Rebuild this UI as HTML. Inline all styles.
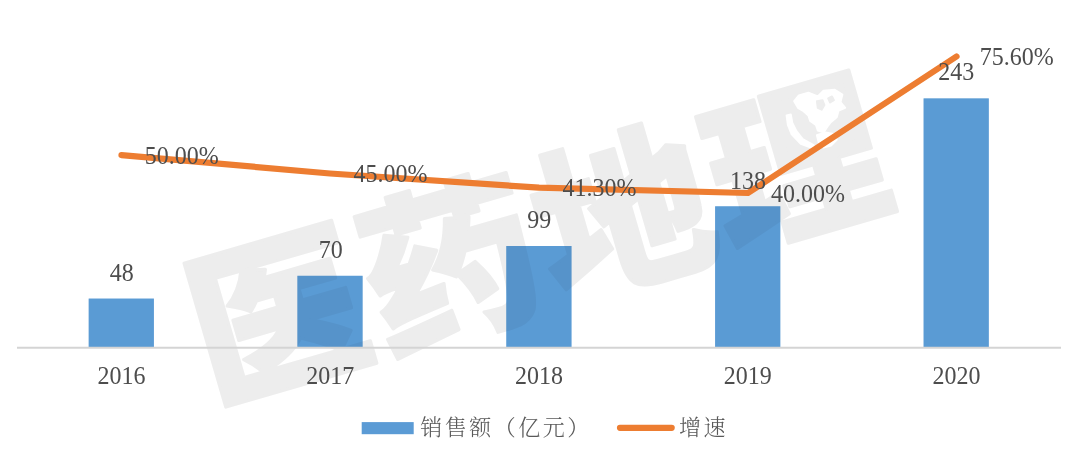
<!DOCTYPE html>
<html lang="zh">
<head>
<meta charset="utf-8">
<title>销售额与增速</title>
<style>
html,body{margin:0;padding:0;background:#fff;}
body{width:1080px;height:476px;overflow:hidden;position:relative;}
svg{position:absolute;left:0;top:0;display:block;}
.num{font-family:"Liberation Serif","Noto Serif CJK SC",serif;font-size:25px;fill:#4d4d4d;}
.leg{font-family:"Liberation Serif","Noto Serif CJK SC",serif;font-weight:300;font-size:22px;fill:#595959;letter-spacing:2.5px;}
.wm{font-family:"Noto Sans CJK SC","Liberation Sans",sans-serif;font-weight:900;font-size:170px;fill:#ededed;stroke:#ededed;stroke-width:3px;letter-spacing:3.3px;stroke-linejoin:round;}
</style>
</head>
<body>
<svg width="1080" height="476" viewBox="0 0 1080 476">
  <rect width="1080" height="476" fill="#ffffff"/>
  <g transform="translate(210.2,399.7) rotate(-16.2) scale(1.038,1)">
    <text class="wm" x="0" y="0">医药地理</text>
  </g>
  <g transform="translate(210.2,399.7) rotate(-16.2)">
    <rect x="624" y="-128" width="72" height="58" fill="#ededed"/>
  </g>
  <g fill="#ffffff" stroke="#ffffff" stroke-width="2" stroke-linejoin="round">
    <polygon points="794.2,101.2 798.9,95.5 808.4,92.7 817.8,96.5 823.5,90.8 834.8,89.8 842.4,94.6 840.5,102.1 845.2,107.8 838.6,110.6 836.7,117.3 831.0,122.0 827.3,126.7 823.5,132.4 817.8,130.5 815.9,124.8 810.2,121.0 808.4,115.4 802.7,110.6 798.0,107.8"/>
    <polygon points="786.6,115.4 787.9,124.8 791.7,134.3 800.8,143.7 813.1,148.4 813.6,145.2 802.7,139.0 796.1,130.5 792.3,122.9 790.8,114.6"/>
    <polygon points="816.9,135.2 825.4,132.4 834.8,134.3 836.7,139.9 831.0,145.6 823.5,147.5 818.8,142.8"/>
    <polygon points="816.9,101.2 822.5,100.2 824.4,105.0 821.6,109.7 817.8,107.8" fill="#ededed" stroke="#ededed"/>
    <polygon points="828.2,98.4 832.0,96.5 833.9,100.2 830.1,102.5" fill="#ededed" stroke="#ededed"/>
  </g>
  <g fill="#5b9bd5" style="mix-blend-mode:multiply">
    <rect x="88.7" y="298.6" width="65.2" height="49.1"/>
    <rect x="297.4" y="275.8" width="65.2" height="71.9"/>
    <rect x="506.3" y="246.0" width="65.2" height="101.7"/>
    <rect x="715.1" y="206.3" width="65.2" height="141.4"/>
    <rect x="923.6" y="98.4" width="65.2" height="249.3"/>
  </g>
  <g fill="#5b9bd5" fill-opacity="0.3">
    <rect x="88.7" y="298.6" width="65.2" height="49.1"/>
    <rect x="297.4" y="275.8" width="65.2" height="71.9"/>
    <rect x="506.3" y="246.0" width="65.2" height="101.7"/>
    <rect x="715.1" y="206.3" width="65.2" height="141.4"/>
    <rect x="923.6" y="98.4" width="65.2" height="249.3"/>
  </g>
  <line x1="17" y1="347.7" x2="1061" y2="347.7" stroke="#d4d4d4" stroke-width="2"/>
  <polyline points="121.5,155.1 330,173.5 539,187.7 748,193 956.5,56.5" fill="none" stroke="#ed7d31" stroke-width="6.2" stroke-linecap="round" stroke-linejoin="round"/>
  <g class="num">
    <text transform="translate(121.7,281) scale(0.96,1)" text-anchor="middle">48</text>
    <text transform="translate(330.8,258) scale(0.96,1)" text-anchor="middle">70</text>
    <text transform="translate(539.2,228) scale(0.96,1)" text-anchor="middle">99</text>
    <text transform="translate(748,188.5) scale(0.96,1)" text-anchor="middle">138</text>
    <text transform="translate(956.2,80) scale(0.96,1)" text-anchor="middle">243</text>
    <text transform="translate(144.8,163.6) scale(0.96,1)">50.00%</text>
    <text transform="translate(353.4,182) scale(0.96,1)">45.00%</text>
    <text transform="translate(562.4,196) scale(0.96,1)">41.30%</text>
    <text transform="translate(771,201.5) scale(0.96,1)">40.00%</text>
    <text transform="translate(979.7,65) scale(0.96,1)">75.60%</text>
    <text transform="translate(121.4,384) scale(0.96,1)" text-anchor="middle">2016</text>
    <text transform="translate(330.2,384) scale(0.96,1)" text-anchor="middle">2017</text>
    <text transform="translate(539,384) scale(0.96,1)" text-anchor="middle">2018</text>
    <text transform="translate(747.8,384) scale(0.96,1)" text-anchor="middle">2019</text>
    <text transform="translate(956.6,384) scale(0.96,1)" text-anchor="middle">2020</text>
  </g>
  <rect x="361.7" y="422.1" width="52" height="12.1" fill="#5b9bd5"/>
  <text class="leg" x="420.3" y="435">销售额（亿元）</text>
  <line x1="620" y1="427.8" x2="671.7" y2="427.8" stroke="#ed7d31" stroke-width="6.2" stroke-linecap="round"/>
  <text class="leg" x="679" y="435">增速</text>
</svg>
</body>
</html>
